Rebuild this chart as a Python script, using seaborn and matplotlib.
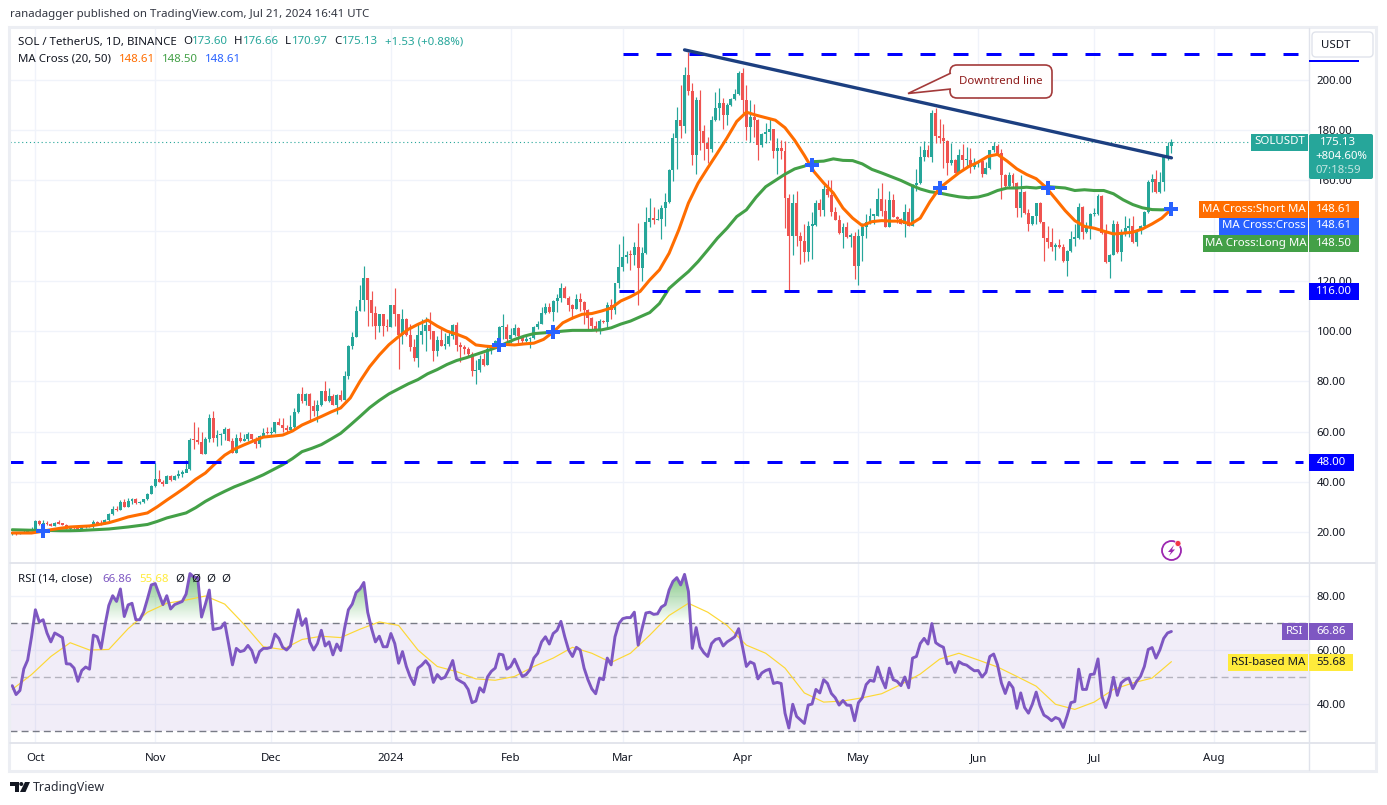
"""
SOL / USDT daily chart with MA cross and RSI panes.
"""

import matplotlib.dates as mdates
import matplotlib.pyplot as plt
import numpy as np
import pandas as pd
import seaborn as sns
from matplotlib.lines import Line2D
from matplotlib.patches import Circle, FancyBboxPatch, Polygon, Rectangle
from matplotlib.path import Path

# Daily closes, highs, lows, one line per month (Sep 25 2023 .. Jul 21 2024)
closes = [
    19.5, 19.3, 19.6, 20.0, 20.5, 21.0,
    24.2, 23.0, 23.6, 23.0, 22.5, 23.6, 23.3, 22.9, 21.2, 21.6, 21.4, 21.0, 22.0, 22.0, 22.3, 24.1, 23.3, 23.0, 24.9, 27.3, 29.3, 28.6, 32.0, 30.0, 32.5, 33.1, 31.5, 31.8, 33.1, 35.3, 38.5,
    41.2, 40.0, 39.3, 42.4, 40.8, 42.4, 43.2, 43.5, 45.0, 56.7, 56.5, 56.0, 51.0, 57.0, 65.3, 57.3, 58.7, 59.0, 61.0, 56.3, 51.6, 57.3, 56.3, 57.2, 59.0, 57.0, 55.0, 58.3, 59.5, 59.3,
    59.7, 63.7, 62.7, 61.6, 60.7, 61.7, 67.7, 75.0, 72.3, 75.0, 70.0, 68.2, 70.6, 76.0, 72.3, 74.0, 70.6, 74.6, 72.6, 82.0, 94.0, 97.8, 108.0, 112.5, 121.0, 112.5, 107.3, 102.0, 106.7, 102.0, 101.6,
    110.3, 106.7, 98.3, 105.0, 98.3, 93.7, 89.3, 98.3, 100.0, 102.3, 100.0, 92.0, 96.3, 94.0, 94.7, 98.0, 102.3, 94.3, 93.6, 92.7, 91.0, 84.0, 84.7, 89.0, 86.7, 92.7, 94.3, 96.0, 101.7, 101.7, 97.0,
    98.3, 101.3, 98.0, 96.0, 96.7, 97.3, 101.7, 103.0, 107.3, 109.5, 107.6, 112.0, 113.0, 117.3, 113.3, 110.3, 109.0, 112.7, 111.6, 108.3, 105.3, 102.0, 100.0, 104.0, 103.6, 110.3, 108.3, 119.0, 125.7,
    129.4, 130.4, 130.2, 133.4, 125.3, 131.0, 143.6, 145.0, 144.3, 144.6, 149.0, 151.3, 164.2, 176.8, 184.0, 181.7, 202.0, 195.8, 170.0, 192.0, 179.5, 175.0, 172.6, 184.0, 189.0, 190.8, 186.0, 190.0, 192.4, 194.5, 202.7,
    192.0, 181.2, 185.2, 184.0, 174.0, 178.5, 179.4, 180.5, 171.9, 173.0, 171.9, 153.0, 138.0, 151.0, 138.0, 135.8, 131.4, 142.0, 142.4, 151.0, 148.4, 156.6, 154.3, 147.3, 144.4, 139.0, 141.3, 137.6, 138.0, 126.0,
    137.7, 141.6, 143.5, 146.0, 146.0, 152.6, 147.7, 141.6, 152.3, 145.6, 144.6, 142.7, 147.3, 142.0, 158.3, 159.0, 169.5, 172.0, 169.5, 186.7, 177.8, 176.8, 175.9, 167.0, 168.0, 163.0, 170.3, 168.0, 168.0, 165.5, 167.0,
    167.7, 162.7, 165.0, 172.0, 173.7, 171.0, 162.0, 157.6, 162.0, 159.0, 149.0, 155.4, 147.0, 142.5, 145.7, 151.0, 143.4, 137.0, 135.4, 133.4, 134.4, 133.4, 128.0, 132.0, 136.8, 137.0, 149.6, 139.4, 141.0, 146.5,
    146.8, 154.0, 139.0, 127.5, 130.5, 142.7, 131.4, 139.4, 141.0, 142.0, 135.4, 140.3, 142.0, 147.6, 159.4, 160.7, 155.4, 159.4, 169.3, 173.6, 175.13,
]
highs = [
    20.0, 19.9, 20.0, 20.6, 21.0, 22.0,
    24.6, 24.9, 24.8, 24.3, 23.5, 24.0, 24.6, 23.6, 23.2, 22.0, 22.0, 21.8, 22.4, 22.6, 22.8, 24.6, 24.5, 24.7, 25.2, 27.6, 30.5, 30.5, 32.9, 33.0, 33.5, 33.5, 33.5, 32.2, 33.2, 35.6, 38.9,
    47.5, 44.8, 40.8, 42.8, 42.8, 42.8, 44.8, 44.8, 48.5, 57.4, 64.0, 62.0, 60.0, 57.8, 67.0, 68.0, 60.7, 59.6, 62.0, 61.5, 57.3, 59.0, 60.0, 59.0, 60.0, 59.2, 58.0, 58.6, 61.3, 61.7,
    61.7, 63.8, 65.4, 65.4, 62.7, 66.6, 69.3, 75.4, 77.8, 75.2, 75.2, 72.6, 72.6, 76.3, 80.0, 77.5, 75.0, 75.0, 76.6, 84.0, 94.3, 99.7, 110.0, 118.4, 126.0, 121.3, 116.0, 110.0, 107.0, 107.0, 105.0,
    110.5, 117.0, 107.0, 108.7, 105.3, 103.0, 97.0, 103.0, 104.7, 105.6, 107.6, 100.2, 98.0, 101.0, 99.3, 100.0, 103.0, 103.6, 95.6, 94.3, 93.7, 91.7, 88.4, 90.3, 91.3, 94.0, 94.5, 96.6, 102.0, 106.7, 103.0,
    101.3, 102.7, 101.5, 98.2, 99.0, 97.5, 102.0, 104.0, 109.7, 111.0, 111.0, 112.2, 114.7, 119.0, 118.0, 114.0, 110.8, 114.7, 115.3, 111.8, 108.8, 105.5, 104.0, 105.0, 104.4, 111.6, 112.7, 119.3, 134.7,
    138.0, 132.0, 132.3, 135.3, 143.0, 133.4, 149.6, 153.0, 149.3, 148.8, 150.3, 155.0, 164.5, 178.8, 189.4, 198.0, 205.0, 211.0, 198.8, 193.4, 196.0, 182.0, 177.5, 185.5, 195.4, 196.8, 192.8, 191.0, 193.0, 196.4, 203.4,
    204.7, 198.0, 192.0, 190.5, 184.5, 178.8, 182.8, 184.5, 180.5, 177.0, 176.0, 175.8, 154.6, 154.6, 156.0, 139.3, 142.7, 144.0, 147.3, 152.2, 152.6, 158.3, 160.0, 160.0, 149.6, 146.4, 143.0, 143.3, 139.0, 139.3,
    140.7, 143.0, 146.6, 149.0, 146.5, 156.9, 159.0, 152.6, 155.7, 154.6, 146.0, 145.2, 150.6, 149.0, 158.5, 164.6, 173.6, 175.6, 174.0, 188.0, 188.9, 184.6, 182.5, 176.2, 175.0, 168.4, 172.5, 174.5, 173.5, 173.0, 169.0,
    168.0, 167.5, 167.3, 172.2, 175.5, 174.6, 172.6, 162.5, 163.3, 163.0, 159.5, 162.0, 155.8, 148.7, 145.9, 151.2, 151.5, 143.6, 142.0, 141.0, 135.0, 136.8, 134.8, 132.3, 139.8, 142.7, 151.0, 149.9, 143.4, 147.0,
    149.0, 154.7, 154.3, 142.7, 130.8, 144.3, 143.8, 140.7, 146.0, 145.0, 146.0, 140.7, 142.2, 147.8, 160.3, 162.6, 164.0, 163.3, 169.5, 175.3, 176.66,
]
lows = [
    19.0, 19.0, 19.2, 19.5, 20.0, 20.4,
    20.8, 22.8, 22.7, 22.8, 22.2, 22.3, 23.0, 22.6, 21.0, 20.9, 21.0, 20.7, 20.9, 21.7, 21.8, 21.6, 23.0, 22.8, 23.0, 24.4, 26.7, 28.2, 28.7, 30.0, 30.0, 31.0, 31.2, 31.3, 31.4, 32.7, 35.0,
    38.0, 39.8, 38.2, 39.4, 40.5, 40.6, 41.5, 42.0, 44.4, 44.8, 53.0, 55.0, 51.0, 51.0, 56.0, 56.0, 54.4, 54.7, 56.7, 56.2, 51.4, 51.6, 56.0, 56.2, 56.3, 56.8, 53.6, 54.0, 57.9, 59.0,
    58.7, 59.5, 62.5, 60.0, 59.3, 60.5, 61.5, 67.5, 71.5, 70.6, 64.0, 66.0, 64.0, 70.2, 72.2, 71.8, 70.5, 67.0, 72.2, 72.5, 81.0, 92.8, 97.5, 108.0, 108.0, 102.0, 102.0, 97.0, 99.6, 98.0, 100.0,
    101.5, 102.0, 85.0, 94.7, 98.0, 92.0, 88.0, 85.7, 94.7, 92.0, 97.0, 88.0, 90.0, 94.0, 93.0, 94.0, 96.7, 92.0, 87.7, 90.7, 90.0, 82.0, 79.0, 83.6, 86.0, 86.5, 91.0, 93.8, 95.8, 96.7, 95.3,
    95.3, 98.0, 95.0, 94.7, 95.5, 93.3, 97.0, 101.0, 102.8, 107.0, 107.3, 104.0, 107.6, 111.6, 113.0, 108.0, 105.0, 108.8, 108.0, 103.0, 100.7, 101.0, 99.6, 98.7, 103.3, 101.0, 105.0, 107.0, 117.0,
    124.0, 127.0, 124.4, 126.4, 110.4, 120.0, 130.7, 141.6, 142.7, 144.3, 136.7, 142.0, 151.0, 159.6, 164.5, 177.0, 179.0, 194.0, 166.0, 162.6, 172.0, 168.0, 167.0, 171.5, 183.5, 184.0, 180.4, 182.0, 189.5, 192.0, 194.2,
    187.0, 176.0, 175.5, 177.5, 168.0, 173.5, 175.0, 176.0, 169.0, 162.6, 168.5, 141.0, 116.0, 130.4, 134.0, 126.7, 127.4, 127.8, 128.7, 141.8, 146.0, 146.0, 153.3, 145.7, 144.2, 138.8, 133.0, 137.0, 133.4, 120.7,
    118.5, 128.0, 137.0, 142.7, 142.7, 145.8, 146.0, 141.3, 141.4, 145.4, 143.0, 142.5, 137.6, 141.8, 141.8, 156.0, 158.5, 167.7, 169.3, 167.5, 174.8, 175.0, 165.0, 162.0, 166.2, 162.8, 162.8, 164.6, 165.5, 163.0, 164.5,
    165.5, 161.3, 162.5, 164.4, 171.5, 170.7, 152.7, 157.2, 157.4, 157.4, 145.4, 145.4, 146.7, 139.7, 142.3, 142.7, 143.0, 127.9, 133.0, 131.8, 128.4, 133.0, 127.7, 122.0, 131.7, 134.0, 136.7, 136.8, 139.2, 136.8,
    146.0, 146.3, 138.8, 127.2, 121.2, 130.3, 131.0, 128.0, 138.0, 137.4, 135.2, 133.7, 138.8, 141.0, 147.0, 155.4, 155.0, 155.0, 156.0, 168.0, 170.97,
]

# Moving averages, read every two and a half days
ma_short = [
    19.6, 19.6, 19.6, 20.2, 20.9, 21.5, 22.0, 22.2, 22.4, 23.0,
    23.7, 24.8, 26.0, 26.8, 27.6, 30.0, 32.7, 35.3, 38.0, 41.0,
    43.5, 47.2, 50.6, 53.0, 54.7, 56.3, 57.8, 58.2, 58.6, 60.2,
    62.6, 64.3, 66.0, 67.8, 69.4, 73.4, 80.0, 85.8, 90.5, 94.6,
    97.8, 100.7, 102.7, 104.4, 102.0, 100.0, 98.8, 97.3, 94.5, 94.0,
    93.7, 94.7, 94.5, 94.9, 95.2, 96.7, 99.6, 103.3, 105.2, 106.7,
    107.0, 108.0, 109.2, 112.0, 113.7, 115.8, 120.4, 124.4, 131.0, 140.3,
    151.0, 158.9, 165.0, 170.9, 177.0, 183.5, 187.2, 186.0, 185.0, 184.0,
    181.0, 176.0, 170.0, 163.5, 159.0, 155.0, 149.0, 145.0, 142.0, 143.6,
    144.0, 143.8, 143.8, 142.6, 145.0, 151.5, 157.0, 160.0, 163.0, 165.5,
    167.3, 169.6, 170.4, 167.7, 164.6, 162.4, 160.7, 157.3, 152.7, 148.0,
    144.0, 141.7, 141.0, 139.8, 138.7, 139.0, 139.4, 140.7, 142.7, 145.0,
    148.61,
]
ma_long = [
    20.9, 20.8, 20.7, 20.6, 20.6, 20.5, 20.5, 20.6, 20.8, 21.0,
    21.2, 21.6, 22.0, 22.5, 23.0, 24.2, 25.6, 26.6, 27.6, 29.7,
    32.2, 34.3, 36.2, 38.0, 39.5, 41.1, 42.8, 44.8, 46.8, 49.2,
    52.0, 53.3, 54.8, 57.0, 59.3, 62.6, 66.0, 69.5, 72.4, 75.0,
    77.0, 79.0, 80.7, 83.0, 84.7, 86.7, 88.3, 89.4, 90.7, 92.0,
    93.3, 95.0, 96.7, 98.0, 99.0, 99.3, 99.6, 100.0, 100.3, 100.3,
    100.3, 100.5, 101.3, 102.8, 104.0, 105.7, 107.4, 111.0, 117.0, 120.4,
    123.7, 127.7, 132.3, 137.0, 141.0, 145.6, 148.3, 153.3, 157.5, 160.0,
    162.5, 164.6, 165.7, 167.5, 167.7, 168.6, 168.0, 167.9, 166.6, 164.4,
    163.0, 161.5, 160.0, 158.2, 156.6, 155.5, 155.0, 154.2, 153.5, 153.1,
    153.4, 154.4, 156.0, 157.0, 157.0, 157.3, 157.0, 157.6, 157.3, 157.0,
    156.0, 156.3, 156.0, 156.0, 154.7, 152.3, 150.4, 149.1, 148.4, 148.3,
    148.5,
]

# MA cross points
cross_dates = ["2023-10-03", "2024-01-29", "2024-02-12", "2024-04-19", "2024-05-22", "2024-06-19", "2024-07-21"]
cross_prices = [20.4, 94.5, 99.5, 166.0, 157.0, 157.0, 148.61]

# Support / resistance levels and the trend line
level_values = [210.4, 116.0, 48.0]
level_starts = ["2024-03-01", "2024-02-29", "2023-09-24"]
trend_dates = ["2024-03-17", "2024-07-21"]
trend_prices = [212.0, 169.0]

# Daily RSI, one line per month
rsi = [
    46.8, 43.5, 45.0, 53.0, 56.3, 64.9,
    74.9, 70.4, 71.2, 66.3, 63.0, 66.3, 65.5, 64.6, 54.9, 54.8, 53.3, 48.4, 52.4, 53.7, 52.9, 65.5, 64.9, 60.6, 69.1, 76.5, 80.1, 78.0, 82.6, 72.4, 76.7, 77.3, 71.2, 71.2, 74.0, 78.9, 84.1,
    84.6, 80.7, 76.8, 80.1, 75.2, 76.8, 77.4, 78.0, 80.7, 88.3, 87.0, 86.8, 72.2, 77.0, 82.2, 67.6, 67.9, 68.2, 70.1, 62.4, 54.5, 60.6, 59.4, 59.8, 61.7, 59.8, 55.4, 59.4, 60.6, 60.6,
    61.0, 65.9, 64.3, 61.0, 60.0, 61.5, 68.5, 74.9, 69.1, 71.6, 63.0, 60.0, 62.4, 67.3, 61.5, 63.0, 58.2, 62.2, 59.8, 67.9, 74.9, 77.0, 81.3, 82.6, 85.0, 74.0, 67.9, 63.0, 65.1, 61.2, 61.2,
    66.1, 62.4, 55.1, 59.4, 53.9, 50.0, 47.2, 53.3, 54.4, 56.0, 54.1, 48.0, 50.9, 49.3, 49.9, 52.7, 56.1, 49.3, 48.4, 47.6, 45.4, 40.5, 41.1, 46.0, 44.4, 50.0, 52.1, 53.3, 58.5, 58.2, 52.9,
    53.9, 56.6, 53.3, 50.2, 50.9, 52.7, 57.0, 58.8, 63.0, 64.9, 62.2, 66.1, 67.3, 70.6, 64.9, 60.0, 57.6, 61.0, 60.0, 53.3, 49.0, 45.6, 43.8, 49.6, 49.0, 57.0, 54.5, 64.9, 69.8,
    71.6, 72.0, 72.0, 74.0, 61.8, 67.9, 73.7, 74.0, 73.2, 73.4, 75.9, 76.8, 82.2, 85.4, 86.8, 84.1, 88.0, 81.7, 60.6, 68.3, 61.2, 59.0, 57.6, 62.4, 63.9, 64.3, 61.5, 63.0, 63.9, 64.9, 67.9,
    61.2, 53.9, 55.6, 54.9, 49.3, 51.5, 52.4, 52.9, 47.6, 48.0, 47.6, 36.6, 31.1, 39.9, 35.4, 34.1, 32.8, 39.6, 40.0, 45.4, 44.1, 49.0, 47.6, 43.9, 42.3, 39.6, 41.3, 39.6, 39.5, 33.8,
    40.5, 42.3, 47.2, 48.8, 48.4, 53.7, 49.3, 46.0, 53.3, 49.0, 48.4, 46.8, 50.0, 46.0, 57.0, 57.6, 62.4, 64.3, 62.2, 69.8, 62.7, 61.7, 61.0, 54.9, 55.4, 51.7, 55.7, 54.8, 54.4, 53.3, 52.3,
    52.4, 50.0, 51.7, 57.6, 58.5, 54.5, 47.8, 43.9, 48.0, 46.0, 38.4, 44.1, 38.7, 36.6, 39.9, 44.4, 39.3, 35.9, 35.0, 33.8, 35.0, 34.4, 31.3, 35.6, 40.5, 40.9, 52.9, 45.4, 45.4, 50.9,
    51.1, 56.7, 42.9, 38.7, 42.9, 49.9, 43.2, 47.8, 49.0, 49.6, 45.7, 48.4, 50.2, 53.9, 60.2, 60.9, 57.0, 60.0, 64.3, 66.3, 66.86,
]
rsi_ma = [
    45.4, 50.9, 57.6, 62.7, 60.0, 60.2, 67.9, 74.0, 77.3, 78.5, 80.0, 77.0, 69.5, 61.2, 60.2,
    63.9, 65.1, 64.6, 67.7, 70.4, 69.1, 60.0, 53.9, 52.0, 49.3, 48.8, 50.2, 53.9, 57.0, 61.0,
    58.8, 55.4, 58.8, 65.5, 72.8, 77.3, 74.0, 69.1, 61.8, 58.8, 53.3, 44.1, 40.7, 41.1, 42.3,
    43.8, 47.2, 51.1, 56.6, 58.8, 56.3, 53.7, 50.2, 46.6, 39.9, 38.0, 40.7, 45.4, 47.8, 49.6, 55.68,
]

month_dates = ["2023-10-01", "2023-11-01", "2023-12-01", "2024-01-01", "2024-02-01", "2024-03-01",
               "2024-04-01", "2024-05-01", "2024-06-01", "2024-07-01", "2024-08-01"]
month_labels = ["Oct", "Nov", "Dec", "2024", "Feb", "Mar", "Apr", "May", "Jun", "Jul", "Aug"]
price_ticks = [20, 40, 60, 80, 100, 120, 140, 160, 180, 200]
rsi_ticks = [40, 60, 80]

UP = "#26a69a"
DOWN = "#ef5350"
ORANGE = "#ff6d00"
GREEN = "#43a047"
BLUE = "#2962ff"
PURPLE = "#7e57c2"
YELLOW = "#ffeb3b"
TEXT = "#131722"
GRID = "#f0f3fa"
BORDER = "#e0e3eb"
FONT_PT = 8.25

W, H = 1387, 805

sns.set_theme(style="white")
plt.rcParams["font.family"] = ["Noto Sans", "DejaVu Sans"]
plt.rcParams["axes.unicode_minus"] = False


def to_num(dates):
    return mdates.date2num(pd.to_datetime(dates))


def px_axes(fig, left, top, right, bottom, **kwargs):
    """Axes from pixel edges of the picture."""
    return fig.add_axes([left / W, 1 - bottom / H, (right - left) / W, (bottom - top) / H], **kwargs)


def draw_candles(ax, days):
    """Candles, each opening at the previous close."""
    c = np.array(closes)
    o = np.r_[c[0], c[:-1]]
    o[-1] = 173.60
    colors = [UP if close_ >= open_ else DOWN for open_, close_ in zip(o, c)]
    ax.vlines(days, lows, highs, colors=colors, linewidth=0.85, zorder=3)
    ax.bar(days, np.maximum(np.abs(c - o), 0.5), bottom=np.minimum(o, c), width=0.76,
           color=colors, linewidth=0, zorder=3)


def style_pane(ax, xlim, ylim, yticks):
    ax.set_xlim(*xlim)
    ax.set_ylim(*ylim)
    ax.set_xticks(to_num(month_dates))
    ax.set_yticks(yticks)
    # 140.00 sits fully behind the MA labels on the scale
    ax.set_yticklabels(["" if v == 140 else f"{v:.2f}" for v in yticks])
    ax.yaxis.tick_right()
    ax.tick_params(axis="y", length=0, pad=5.5, labelsize=FONT_PT, labelcolor=TEXT)
    ax.tick_params(axis="x", length=0, pad=7, labelsize=FONT_PT, labelcolor=TEXT)
    ax.grid(True, color=GRID, linewidth=1.0)
    ax.set_axisbelow(True)
    ax.set_xlabel("")
    ax.set_ylabel("")
    for spine in ax.spines.values():
        spine.set_visible(False)


def label_box(ax, x0, y0, x1, y1, color, text=None, text_color="white", **text_kw):
    ax.add_patch(Rectangle((x0, y0), x1 - x0, y1 - y0, facecolor=color, edgecolor="none", zorder=2))
    if text:
        ax.text((x0 + x1) / 2, (y0 + y1) / 2 - 0.5, text, color=text_color, ha="center", va="center",
                fontsize=FONT_PT, zorder=3, **text_kw)


def put(ax, x, y, text, color=TEXT, **kw):
    kw.setdefault("fontsize", FONT_PT)
    ax.text(x, y, text, color=color, ha="left", va="center", zorder=3, **kw)


def draw_overlay(ax):
    """Frame, price labels, legends and the callout, all in picture pixels."""
    # pane frame
    ax.add_patch(Rectangle((9, 27), 1367, 744, fill=False, edgecolor="#eceef3", linewidth=2.2, zorder=1))
    ax.add_line(Line2D([1309, 1309], [28, 770], color=BORDER, linewidth=1.0, zorder=1))
    ax.add_line(Line2D([10, 1375], [563, 563], color=BORDER, linewidth=1.3, zorder=1))
    ax.add_line(Line2D([10, 1375], [743, 743], color=BORDER, linewidth=1.3, zorder=1))

    # labels on the price scale
    label_box(ax, 1251, 134, 1308, 151, UP, "SOLUSDT")
    ax.add_patch(FancyBboxPatch((1309, 134), 64, 45, boxstyle="round,pad=0,rounding_size=2",
                                facecolor=UP, edgecolor="none", zorder=2))
    ax.text(1338, 142.5, "175.13", color="white", ha="center", va="center", fontsize=FONT_PT, zorder=3)
    ax.text(1341, 156.5, "+804.60%", color="white", ha="center", va="center", fontsize=FONT_PT, zorder=3)
    ax.text(1338, 170.5, "07:18:59", color="#c4e6e2", ha="center", va="center", fontsize=FONT_PT, zorder=3)

    label_box(ax, 1199, 201, 1308, 218, ORANGE, "MA Cross:Short MA")
    label_box(ax, 1309, 201, 1359, 218, ORANGE, "148.61")
    label_box(ax, 1219, 218, 1308, 234.5, BLUE, "MA Cross:Cross")
    label_box(ax, 1309, 218, 1359, 234.5, BLUE, "148.61")
    label_box(ax, 1203, 235, 1308, 252, GREEN, "MA Cross:Long MA")
    label_box(ax, 1309, 235, 1359, 252, GREEN, "148.50")
    label_box(ax, 1309, 283, 1359, 300, "#0000ff", "116.00")
    label_box(ax, 1309, 454, 1354, 471, "#0000ff", "48.00")
    label_box(ax, 1309, 60, 1359, 62.5, "#0000ff")

    # currency button
    ax.add_patch(FancyBboxPatch((1312, 32), 61, 25, boxstyle="round,pad=0,rounding_size=4",
                                facecolor="white", edgecolor=BORDER, linewidth=1.0, zorder=3))
    ax.text(1336, 45, "USDT", color=TEXT, ha="center", va="center", fontsize=FONT_PT, zorder=4)

    # labels on the RSI scale
    label_box(ax, 1282, 623, 1308, 640, PURPLE, "RSI")
    label_box(ax, 1309, 623, 1353, 640, PURPLE, "66.86")
    label_box(ax, 1228, 654, 1308, 671, YELLOW, "RSI-based MA", TEXT)
    label_box(ax, 1309, 654, 1353, 671, YELLOW, "55.68", TEXT)

    # published line and legends
    put(ax, 10, 15, "ranadagger published on TradingView.com, Jul 21, 2024 16:41 UTC", "#333742")
    put(ax, 18, 42, "SOL / TetherUS, 1D, BINANCE")
    for x, s in zip([183, 234, 285, 334], "OHLC"):
        put(ax, x, 42, s)
    for x, s in zip([192, 243, 292, 342, 385],
                    ["173.60", "176.66", "170.97", "175.13", "+1.53 (+0.88%)"]):
        put(ax, x, 42, s, UP)
    put(ax, 18, 59, "MA Cross (20, 50)")
    put(ax, 119, 59, "148.61", ORANGE)
    put(ax, 162, 59, "148.50", GREEN)
    put(ax, 205, 59, "148.61", BLUE)
    put(ax, 18, 579, "RSI (14, close)")
    put(ax, 102, 579, "66.86", PURPLE)
    put(ax, 139, 579, "55.68", YELLOW)
    for x in [175, 191, 206, 221]:
        put(ax, x, 579, "Ø")

    # callout on the trend line
    edge = "#a33a3a"
    ax.add_patch(FancyBboxPatch((950, 65), 102, 33, boxstyle="round,pad=0,rounding_size=7",
                                facecolor="#fffdfd", edgecolor=edge, linewidth=1.2, zorder=2))
    ax.add_patch(Polygon([(951, 73), (908, 93.5), (951, 89)], closed=False, facecolor="#fffdfd",
                         edgecolor=edge, linewidth=1.2, zorder=3))
    ax.add_line(Line2D([951.5, 951.5], [74, 88], color="#fffdfd", linewidth=2.0, zorder=4))
    ax.text(1001, 81, "Downtrend line", color="#8e1a1a", ha="center", va="center", fontsize=FONT_PT, zorder=5)

    # alert icon
    ax.add_patch(Circle((1171.5, 550.5), 9.5, fill=False, edgecolor="#9c27b0", linewidth=1.3, zorder=3))
    ax.add_patch(Polygon([(1174, 545), (1168, 552), (1171, 552), (1169, 556), (1175, 549.5), (1172, 549.5)],
                         facecolor="#9c27b0", edgecolor="none", zorder=4))
    ax.add_patch(Circle((1178, 543.5), 3, facecolor="#f23645", edgecolor="white", linewidth=0.5, zorder=5))

    # TradingView mark
    ax.add_patch(Polygon([(10, 782), (19, 782), (19, 792), (14.5, 792), (14.5, 786), (10, 786)],
                         facecolor=TEXT, edgecolor="none", zorder=3))
    ax.add_patch(Circle((21.3, 784), 2, facecolor=TEXT, edgecolor="none", zorder=3))
    ax.add_patch(Polygon([(25, 782), (30, 782), (25.5, 792), (20, 792)], facecolor=TEXT, edgecolor="none", zorder=3))
    put(ax, 33, 787, "TradingView", "#2a2e39", fontsize=8.9)


def main():
    fig = plt.figure(figsize=(W / 100, H / 100), dpi=100, facecolor="white")

    days = to_num(pd.date_range("2023-09-25", periods=len(closes), freq="D"))
    ma_days = days[0] + 2.5 * np.arange(len(ma_short))
    every_5th = days[::5]
    oct_1 = to_num("2023-10-01")
    xlim = (oct_1 + (10 - 35.4) / 3.864, oct_1 + (1309 - 35.4) / 3.864)

    # Price pane
    ax = px_axes(fig, 10, 28, 1309, 563)
    ax.axhline(closes[-1], color=UP, linewidth=0.8, linestyle=(0, (1, 2.5)), zorder=2)
    draw_candles(ax, days)
    sns.lineplot(x=ma_days, y=ma_long, ax=ax, color=GREEN, linewidth=2.2, estimator=None, sort=False, zorder=4)
    sns.lineplot(x=ma_days, y=ma_short, ax=ax, color=ORANGE, linewidth=2.2, estimator=None, sort=False, zorder=5)
    level_end = to_num("2024-08-24")
    for value, start in zip(level_values, level_starts):
        ax.hlines(value, to_num(start), level_end, colors="#0000ff", linewidth=2.16,
                  linestyles=(0, (5, 6)), zorder=6)
    sns.lineplot(x=to_num(trend_dates), y=trend_prices, ax=ax, color="#1c3f80", linewidth=2.4,
                 estimator=None, sort=False, zorder=7)
    sns.scatterplot(x=to_num(cross_dates), y=cross_prices, ax=ax, marker="P", s=88, color=BLUE,
                    linewidth=0, zorder=8)
    style_pane(ax, xlim, (20 + (532 - 563) / 2.511, 20 + (532 - 28) / 2.511), price_ticks)
    ax.tick_params(axis="x", labelbottom=False)

    # RSI pane
    ax_rsi = px_axes(fig, 10, 563, 1309, 743)
    ax_rsi.axhspan(30, 70, facecolor=PURPLE, alpha=0.1, linewidth=0, zorder=1)
    for level, alpha in zip([70, 50, 30], [1.0, 0.5, 1.0]):
        ax_rsi.axhline(level, color="#787b86", linewidth=1.0, linestyle=(0, (5, 3)), alpha=alpha, zorder=2)

    # overbought fill fades out towards the 70 line
    area = ax_rsi.fill_between(days, 70, rsi, where=np.array(rsi) > 70, interpolate=True, linewidth=0)
    clip = Path.make_compound_path(*area.get_paths())
    area.remove()
    shade = np.zeros((100, 2, 4))
    shade[:, :, :3] = (0.30, 0.69, 0.31)
    shade[:, :, 3] = np.linspace(0, 0.7, 100)[:, None]
    image = ax_rsi.imshow(shade, extent=(days[0], days[-1], 70, 88), origin="lower", aspect="auto", zorder=2)
    image.set_clip_path(clip, transform=ax_rsi.transData)

    sns.lineplot(x=every_5th, y=rsi_ma, ax=ax_rsi, color="#fdd835", linewidth=0.85, estimator=None,
                 sort=False, zorder=3)
    sns.lineplot(x=days, y=rsi, ax=ax_rsi, color=PURPLE, linewidth=2.1, estimator=None, sort=False, zorder=4)
    style_pane(ax_rsi, xlim, (40 - 39 / 2.7, 80 + 33 / 2.7), rsi_ticks)
    ax_rsi.set_xticklabels(month_labels)
    for tick in ax_rsi.get_xticklabels():
        if tick.get_text() == "2024":
            tick.set_fontweight("bold")

    # Decoration layer in picture pixels
    overlay = fig.add_axes([0, 0, 1, 1], zorder=5)
    overlay.set_xlim(0, W)
    overlay.set_ylim(H, 0)
    overlay.axis("off")
    draw_overlay(overlay)

    fig.savefig("out.png", dpi=100)
    plt.close(fig)


if __name__ == "__main__":
    main()
